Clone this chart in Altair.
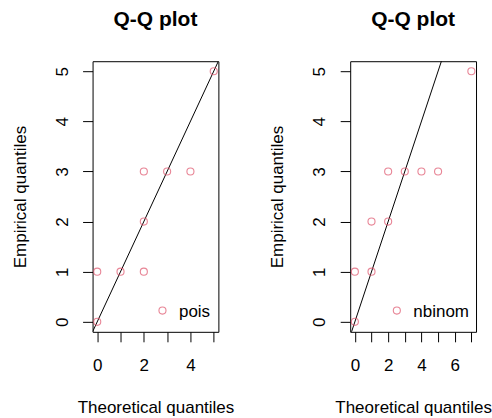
import altair as alt
import pandas as pd

# Q-Q comparison of the empirical quantiles against two fitted discrete laws
pois_theo = [0, 0, 1, 2, 2, 2, 3, 4, 5]
pois_emp = [0, 1, 1, 1, 2, 3, 3, 3, 5]

nbinom_theo = [0, 0, 1, 1, 2, 2, 3, 4, 5, 7]
nbinom_emp = [0, 1, 1, 2, 2, 3, 3, 3, 3, 5]

y_lim = [-0.2, 5.2]
pois_xlim = [-0.2, 5.2]
nbinom_xlim = [-0.28, 7.28]

y_ticks = [0, 1, 2, 3, 4, 5]
pois_xticks = [0, 1, 2, 3, 4, 5]
nbinom_xticks = [0, 1, 2, 3, 4, 5, 6, 7]

FONT = "Liberation Sans"
RED = "#DF536B"
W, H = 126, 271


def panel(theo, emp, label, xlim, xticks, legend_x):
    pts = pd.DataFrame({"theo": theo, "emp": emp})
    # identity reference line y = x, spanning the whole x range (clipped)
    ref = pd.DataFrame({"theo": xlim, "emp": xlim})

    x_enc = alt.X(
        "theo:Q",
        scale=alt.Scale(domain=xlim, nice=False, zero=False),
        axis=alt.Axis(
            values=xticks,
            labelExpr="datum.value % 2 == 0 ? datum.label : ''",
            labelBaseline="top",
            labelPadding=16,
            titleX=W / 2,
            titleY=81,
            titleBaseline="alphabetic",
            titleAlign="center",
        ),
        title="Theoretical quantiles",
    )
    y_enc = alt.Y(
        "emp:Q",
        scale=alt.Scale(domain=y_lim, nice=False, zero=False),
        axis=alt.Axis(
            values=y_ticks,
            labelAngle=270,
            labelAlign="center",
            labelBaseline="alphabetic",
            labelPadding=15.5,
            titleAngle=270,
            titleX=-67.5,
            titleY=H / 2,
            titleAlign="center",
            titleBaseline="alphabetic",
        ),
        title="Empirical quantiles",
    )

    line = alt.Chart(ref).mark_line(color="black", strokeWidth=1, clip=True).encode(
        x=x_enc, y=y_enc
    )
    points = alt.Chart(pts).mark_point(
        shape="circle", filled=False, color=RED, size=50, strokeWidth=1.1
    ).encode(x=x_enc, y=y_enc)

    key = pd.DataFrame({"name": [label]})
    key_symbol = alt.Chart(key).mark_point(
        shape="circle", filled=False, color=RED, size=50, strokeWidth=1.1
    ).encode(x=alt.value(legend_x), y=alt.value(249.7))
    key_text = alt.Chart(key).mark_text(
        align="left", baseline="alphabetic", font=FONT, fontSize=17, color="black"
    ).encode(x=alt.value(legend_x + 16.5), y=alt.value(256), text="name:N")

    return alt.layer(line, points, key_symbol, key_text).properties(
        width=W,
        height=H,
        title=alt.TitleParams(
            "Q-Q plot",
            font=FONT,
            fontSize=21,
            fontWeight="bold",
            color="black",
            anchor="middle",
            baseline="alphabetic",
            offset=14,
        ),
    )


left = panel(pois_theo, pois_emp, "pois", pois_xlim, pois_xticks, 70)
right = panel(nbinom_theo, nbinom_emp, "nbinom", nbinom_xlim, nbinom_xticks, 46.7)

chart = (
    alt.hconcat(left, right, spacing=132, bounds="flush")
    .properties(padding={"left": 10.7, "top": 8, "right": 0, "bottom": 0})
    .configure(background="white")
    .configure_view(stroke="black", strokeWidth=1)
    .configure_axis(
        domain=False,
        grid=False,
        tickColor="black",
        tickSize=10,
        tickWidth=1,
        labelFont=FONT,
        labelFontSize=17,
        labelColor="black",
        titleFont=FONT,
        titleFontSize=17,
        titleFontWeight="normal",
        titleColor="black",
    )
)

chart.save("out.html", embed_options={"renderer": "svg", "actions": False})
